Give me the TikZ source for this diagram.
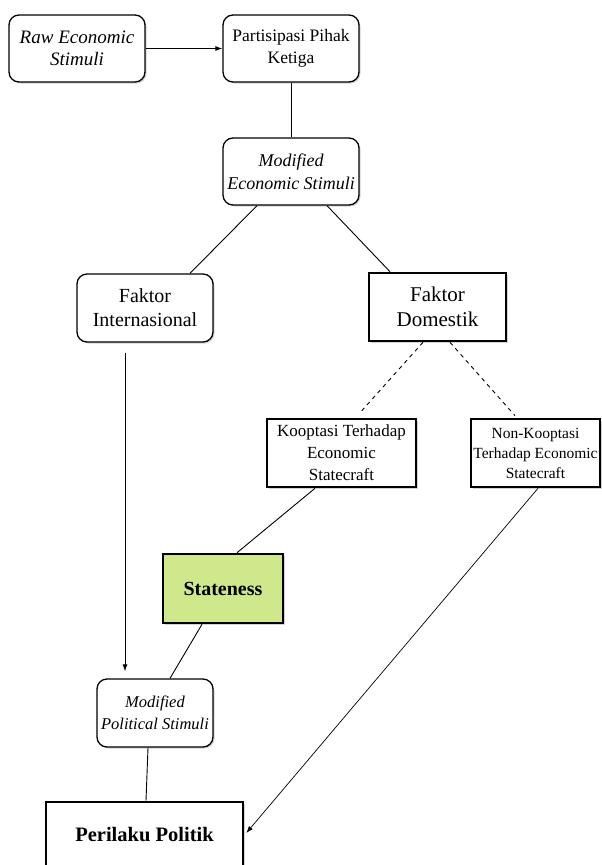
\documentclass[tikz,border=0pt]{standalone}
\usepackage{fontspec}
\setmainfont{Liberation Serif}
\usepackage{tikz}
\usetikzlibrary{calc, shadows, arrows.meta}

\begin{document}
\begin{tikzpicture}[x=1pt, y=-1pt, >={Latex[length=7pt, width=5pt]}]
  % --- Styles ---
  \tikzset{
    soft box/.style={draw, rounded corners=10pt, line width=1.3pt, fill=white, align=center,
      inner sep=1pt, drop shadow={shadow xshift=1.5pt, shadow yshift=-1.5pt, opacity=0.35}},
    hard box/.style={draw, line width=2.6pt, fill=white, align=center, inner sep=1pt,
      drop shadow={shadow xshift=1.5pt, shadow yshift=-1.5pt, opacity=0.35}},
    link/.style={line width=0.9pt},
    option link/.style={line width=0.9pt, dashed, dash pattern=on 4pt off 4pt}
  }

  % --- Fix the page ---
  \useasboundingbox (0,0) rectangle (602,865);
  \clip (0,0) rectangle (602,865);

  % --- Top row ---
  \node[soft box, minimum width=136pt, minimum height=67pt,
    font=\fontsize{19}{22}\selectfont\itshape] (raw) at (77,48.5) {Raw Economic\\ Stimuli};
  \node[soft box, minimum width=136pt, minimum height=67pt,
    font=\fontsize{17.5}{22}\selectfont] (pihak) at (291,48.5) {Partisipasi Pihak\\ Ketiga};
  \node[soft box, minimum width=136pt, minimum height=67pt,
    font=\fontsize{18}{23}\selectfont\itshape] (modecon) at (291,171.5) {Modified\\ Economic Stimuli};

  % --- The two factors ---
  \node[soft box, minimum width=136pt, minimum height=68pt,
    font=\fontsize{20}{24}\selectfont] (intl) at (145,308) {Faktor\\ Internasional};
  \node[hard box, minimum width=137pt, minimum height=68pt,
    font=\fontsize{21}{25}\selectfont] (dom) at (437.5,307) {Faktor\\ Domestik};

  % --- Response to economic statecraft ---
  \node[hard box, minimum width=149pt, minimum height=68pt,
    font=\fontsize{17}{22}\selectfont] (koop) at (341.5,453) {Kooptasi Terhadap\\ Economic\\ Statecraft};
  \node[hard box, minimum width=129pt, minimum height=68pt, inner sep=0pt,
    font=\fontsize{15.5}{20}\selectfont] (nonkoop) at (535.5,453) {Non-Kooptasi\\ Terhadap Economic\\ Statecraft};

  \node[hard box, fill={rgb,255:red,208;green,232;blue,140}, minimum width=120pt, minimum height=69pt,
    font=\fontsize{20}{24}\selectfont\bfseries] (state) at (223,588.5) {Stateness};

  % --- Bottom ---
  \node[soft box, minimum width=116pt, minimum height=68pt,
    font=\fontsize{16.5}{22}\selectfont\itshape] (modpol) at (155,713) {Modified\\ Political Stimuli};
  \node[hard box, minimum width=197pt, minimum height=66pt,
    font=\fontsize{20.5}{24}\selectfont\bfseries] (perilaku) at (144.5,835) {Perilaku Politik};

  % --- Connectors ---
  \draw[link, ->] (raw) -- (pihak);
  \draw[link] (pihak) -- (modecon);
  \draw[link] ([xshift=-34pt]modecon.south) -- ([xshift=45pt]intl.north);
  \draw[link] ([xshift=36pt]modecon.south) -- ([xshift=-47.5pt]dom.north);

  \draw[option link] ([xshift=-14.5pt]dom.south) -- ([xshift=18.5pt, yshift=5pt]koop.north);
  \draw[option link] ([xshift=12.5pt]dom.south) -- ([xshift=-20.5pt, yshift=2pt]nonkoop.north);

  \draw[link] ([xshift=-26.5pt]koop.south) -- ([xshift=14pt]state.north);
  \draw[link] ([xshift=-21pt]state.south) -- ([xshift=15pt]modpol.north);
  \draw[link, ->] ([xshift=-20pt, yshift=-10pt]intl.south) -- ([xshift=-30pt, yshift=7pt]modpol.north);

  \draw[link] ([xshift=-7pt]modpol.south) -- ([xshift=1.5pt]perilaku.north);
  \draw[line width=0.7pt, ->] ([xshift=2.5pt]nonkoop.south) -- ([xshift=2pt, yshift=2pt]perilaku.east);

\end{tikzpicture}
\end{document}
